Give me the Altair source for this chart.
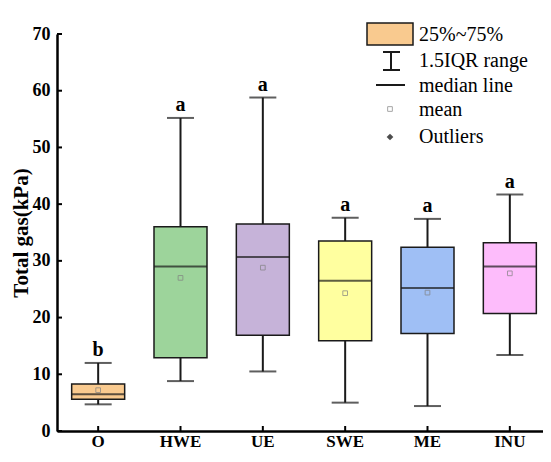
import altair as alt
import pandas as pd

groups = ["O", "HWE", "UE", "SWE", "ME", "INU"]
low = [4.7, 8.8, 10.5, 5.0, 4.4, 13.4]
q1 = [5.6, 12.9, 16.9, 15.9, 17.2, 20.7]
median = [6.5, 29.0, 30.7, 26.5, 25.2, 29.0]
q3 = [8.3, 36.0, 36.5, 33.5, 32.4, 33.2]
high = [12.0, 55.2, 58.8, 37.6, 37.4, 41.7]
mean = [7.2, 27.0, 28.8, 24.3, 24.4, 27.8]
letters = ["b", "a", "a", "a", "a", "a"]
colors = ["#F9CA8F", "#9DD49B", "#C6B3D9", "#FFFF9F", "#9FBFF5", "#FDBCFB"]
y_ticks = [0, 10, 20, 30, 40, 50, 60, 70]
legend_labels = ["25%~75%", "1.5IQR range", "median line", "mean", "Outliers"]

SERIF = "Liberation Serif"
DARK = "#1a1a1a"

df = pd.DataFrame({"group": groups, "low": low, "q1": q1, "median": median,
                   "q3": q3, "high": high, "mean": mean, "letter": letters})
ticks_df = pd.DataFrame({"v": y_ticks})
one = pd.DataFrame({"k": [0]})

W, H = 486, 397
DY = 3  # legend offset relative to plot top

xscale = alt.Scale(domain=groups, paddingInner=0, paddingOuter=0, range=[0, 494])
yscale = alt.Scale(domain=[0, 70], nice=False, zero=True)

xaxis = alt.Axis(title=None, ticks=False, grid=False, domainWidth=2.5, domainColor="black",
                 labelFont=SERIF, labelFontWeight="bold", labelFontSize=17, labelColor="black",
                 labelAngle=0, labelPadding=2)
yaxis = alt.Axis(title="Total gas(kPa)", values=y_ticks, ticks=False, grid=False,
                 domainWidth=2.5, domainColor="black",
                 labelFont=SERIF, labelFontWeight="bold", labelFontSize=18, labelColor="black",
                 labelPadding=7, titleFont=SERIF, titleFontWeight="bold", titleFontSize=21,
                 titleColor="black", titleAngle=-90, titleX=-36, titleY=H / 2,
                 titleAlign="center", titleBaseline="middle")

X = alt.X("group:N", sort=groups, scale=xscale, axis=xaxis)
base = alt.Chart(df)

whisk = base.mark_rule(color=DARK, strokeWidth=2).encode(
    x=X, y=alt.Y("low:Q", scale=yscale, axis=yaxis), y2="high:Q")
caps_low = base.mark_tick(color=DARK, size=27, thickness=2).encode(x=X, y="low:Q")
caps_high = base.mark_tick(color=DARK, size=27, thickness=2).encode(x=X, y="high:Q")
boxes = base.mark_bar(size=53, stroke=DARK, strokeWidth=1.5).encode(
    x=X, y="q1:Q", y2="q3:Q",
    color=alt.Color("group:N", scale=alt.Scale(domain=groups, range=colors), legend=None))
med = base.mark_tick(color=DARK, size=53, thickness=2).encode(x=X, y="median:Q")
means = base.mark_point(shape="square", size=22, filled=False, color="#808080",
                        strokeWidth=1).encode(x=X, y="mean:Q")
lets = base.mark_text(font=SERIF, fontWeight="bold", fontSize=20, color="black",
                      baseline="alphabetic", dy=-7).encode(x=X, y="high:Q", text="letter:N")

xt = base.mark_rule(color="black", strokeWidth=2).encode(
    x=X, y=alt.value(H), y2=alt.value(H - 5))
yt = alt.Chart(ticks_df).mark_rule(color="black", strokeWidth=2).encode(
    y=alt.Y("v:Q", scale=yscale), x=alt.value(0), x2=alt.value(5))

# legend
L = alt.Chart(one)
leg_box = L.mark_rect(fill="#F9CA8F", stroke=DARK, strokeWidth=1.5).encode(
    x=alt.value(310), x2=alt.value(356), y=alt.value(-14 + DY), y2=alt.value(8 + DY))
leg_wh = L.mark_rule(color=DARK, strokeWidth=2).encode(
    x=alt.value(334), y=alt.value(15 + DY), y2=alt.value(33 + DY))
leg_c1 = L.mark_rule(color=DARK, strokeWidth=2).encode(
    x=alt.value(326), x2=alt.value(343), y=alt.value(15 + DY))
leg_c2 = L.mark_rule(color=DARK, strokeWidth=2).encode(
    x=alt.value(326), x2=alt.value(343), y=alt.value(33 + DY))
leg_med = L.mark_rule(color=DARK, strokeWidth=2).encode(
    x=alt.value(319), x2=alt.value(348), y=alt.value(48 + DY))
leg_mean = L.mark_point(shape="square", size=22, filled=False, color="#808080",
                        strokeWidth=1).encode(x=alt.value(333), y=alt.value(72 + DY))
leg_out = L.mark_point(shape="diamond", size=45, filled=True, color="black").encode(
    x=alt.value(333), y=alt.value(100 + DY))
leg_y = [-2, 24, 49, 73, 100]
leg_texts = [L.mark_text(font=SERIF, fontSize=20, color="black", align="left",
                         baseline="middle").encode(x=alt.value(362), y=alt.value(yy + DY),
                                                   text=alt.value(t))
             for t, yy in zip(legend_labels, leg_y)]

chart = alt.layer(whisk, caps_low, caps_high, boxes, med, means, lets, xt, yt,
                  leg_box, leg_wh, leg_c1, leg_c2, leg_med, leg_mean, leg_out, *leg_texts
                  ).properties(
    width=W, height=H,
    autosize=alt.AutoSizeParams(type="none"),
    padding={"left": 49, "top": 26, "right": 0, "bottom": 19},
    background="white",
).configure_view(stroke=None)

chart.save("out.html", embed_options={"renderer": "svg", "actions": False})
